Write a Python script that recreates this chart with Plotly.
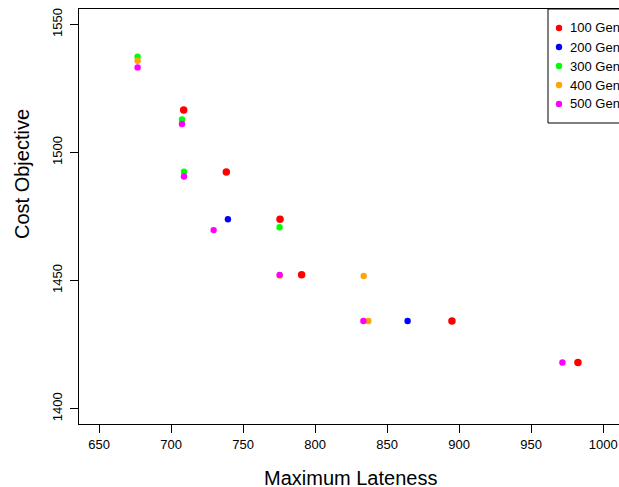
import plotly.graph_objects as go

# ---- data ----
series_names = ["100 Generations", "200 Generations", "300 Generations",
                "400 Generations", "500 Generations"]
series_colors = ["#FF0000", "#0000FF", "#00FF00", "#FFA500", "#FF00FF"]

lateness_100 = [708.7, 738.3, 775.6, 790.6, 895.0, 982.5]
cost_100 = [1516.6, 1492.4, 1473.9, 1452.3, 1434.2, 1418.0]

lateness_200 = [739.4, 864.2]
cost_200 = [1473.9, 1434.2]

lateness_300 = [676.7, 707.5, 708.9, 775.3]
cost_300 = [1537.4, 1512.9, 1492.5, 1470.8]

lateness_400 = [676.7, 775.5, 833.7, 836.9]
cost_400 = [1535.8, 1452.0, 1451.8, 1434.2]

lateness_500 = [676.7, 707.5, 708.9, 729.5, 775.3, 833.5, 971.7]
cost_500 = [1533.2, 1511.1, 1490.6, 1469.7, 1452.2, 1434.2, 1418.0]

x_ticks = [650, 700, 750, 800, 850, 900, 950, 1000]
y_ticks = [1400, 1450, 1500, 1550]

xs = [lateness_100, lateness_200, lateness_300, lateness_400, lateness_500]
ys = [cost_100, cost_200, cost_300, cost_400, cost_500]
sizes = [7.5, 6.4, 6.4, 6.4, 6.4]

# ---- layout geometry ----
W, H = 619, 487
ML, MR, MT, MB = 79, 0, 9, 63
PW, PH = W - ML - MR, H - MT - MB


def px_x(px):
    return (px - ML) / PW


def px_y(py):
    return (H - MB - py) / PH


FONT = "Liberation Sans, Arial, Helvetica, sans-serif"

fig = go.Figure()
for name, color, x, y, s in zip(series_names, series_colors, xs, ys, sizes):
    fig.add_trace(go.Scatter(x=x, y=y, mode="markers", name=name,
                             marker=dict(color=color, size=s, line=dict(width=0)),
                             showlegend=False))

shapes = []
annotations = []
# legend box (cut off at the right edge, as in the reference)
shapes.append(dict(type="rect", xref="paper", yref="paper",
                   x0=px_x(548), x1=1.3, y0=px_y(123), y1=px_y(9),
                   line=dict(color="black", width=1), fillcolor="white", layer="above"))
leg_y = [28, 47, 66, 85, 104]
for name, color, ly in zip(series_names, series_colors, leg_y):
    shapes.append(dict(type="circle", xref="paper", yref="paper",
                       xsizemode="pixel", ysizemode="pixel",
                       xanchor=px_x(559), yanchor=px_y(ly),
                       x0=-3.2, x1=3.2, y0=-3.2, y1=3.2,
                       line=dict(width=0), fillcolor=color, layer="above"))
    annotations.append(dict(text=name, xref="paper", yref="paper",
                            x=px_x(568), y=px_y(ly), xanchor="left", yanchor="middle",
                            showarrow=False, font=dict(size=13, color="black", family=FONT)))

annotations.append(dict(text="Maximum Lateness", xref="paper", yref="paper",
                        x=px_x(350), y=px_y(478), xanchor="center", yanchor="middle",
                        showarrow=False, font=dict(size=20, color="black", family=FONT)))
annotations.append(dict(text="Cost Objective", xref="paper", yref="paper",
                        x=px_x(22), y=px_y(174), xanchor="center", yanchor="middle",
                        textangle=-90,
                        showarrow=False, font=dict(size=20, color="black", family=FONT)))

fig.update_layout(
    width=W, height=H,
    margin=dict(l=ML, r=MR, t=MT, b=MB, pad=0),
    paper_bgcolor="white", plot_bgcolor="white",
    font=dict(family=FONT, color="black", size=13),
    shapes=shapes, annotations=annotations,
    showlegend=False,
)
fig.update_xaxes(range=[636, 636 + PW / 1.44], tickvals=x_ticks,
                 ticktext=[str(v) for v in x_ticks],
                 showgrid=False, zeroline=False, showline=True, mirror=True,
                 linecolor="black", linewidth=1, ticks="outside", ticklen=8,
                 tickcolor="black", tickfont=dict(size=13, family=FONT))
fig.update_yaxes(range=[1394, 1556], tickvals=y_ticks,
                 ticktext=[str(v) for v in y_ticks],
                 showgrid=False, zeroline=False, showline=True, mirror=False,
                 linecolor="black", linewidth=1, ticks="outside", ticklen=8,
                 tickcolor="black", tickangle=-90, ticklabelstandoff=3,
                 tickfont=dict(size=13, family=FONT))

fig.write_html("out.html")
